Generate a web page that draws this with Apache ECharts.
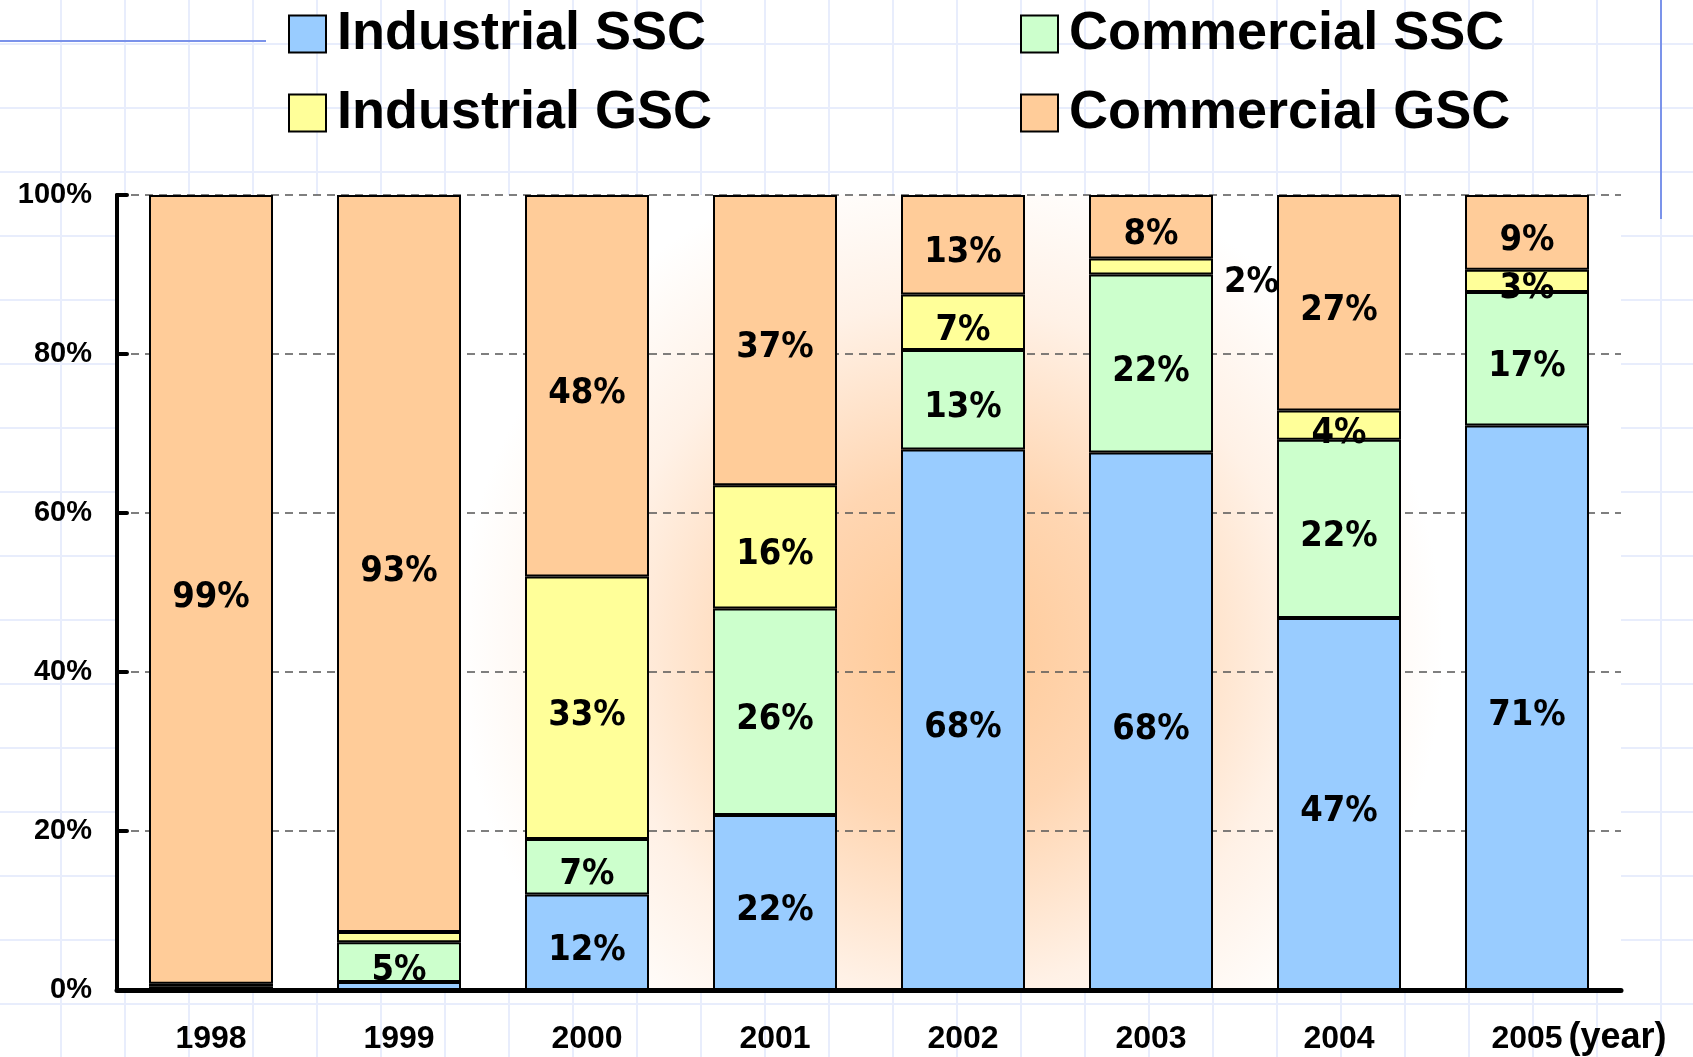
<!DOCTYPE html>
<html>
<head>
<meta charset="utf-8">
<script src="https://cdn.jsdelivr.net/npm/echarts@6/dist/echarts.min.js"></script>
<style>
  html, body { margin: 0; padding: 0; }
  body {
    background-color: #fff;
    background-image:
      linear-gradient(to right, #e8edfc 2px, transparent 2px),
      linear-gradient(to bottom, #e8edfc 2px, transparent 2px);
    background-size: 64px 64px;
    background-position: 60px 43px;
  }
  #chart { width: 1693px; height: 1057px; }
</style>
</head>
<body>
<div id="chart"></div>
<script>
var years = ['1998', '1999', '2000', '2001', '2002', '2003', '2004', '2005'];
var yTicks = ['0%', '20%', '40%', '60%', '80%', '100%'];

// share of each segment, %
var industrialSSC = [0, 1, 12, 22, 68, 67.6, 46.8, 71];
var commercialSSC = [0.4, 5, 7, 26, 12.5, 22.4, 22.4, 16.8];
var industrialGSC = [0.4, 1.3, 33, 15.5, 7, 2, 3.7, 2.8];
var commercialGSC = [99.2, 92.7, 48, 36.5, 12.5, 8, 27.1, 9.4];

var narrow = '"Liberation Sans Narrow", "DejaVu Sans Condensed", sans-serif';
var wide = '"Liberation Sans", Arial, sans-serif';

function makeData(values) {
    return values.map(function (v) {
        var item = { value: v };
        if (v < 1.5) {
            item.label = { show: false };
        } else if (v < 2.5) {
            // too thin, label goes beside the bar
            item.label = { position: 'right', distance: 11, offset: [0, 16] };
        }
        return item;
    });
}

function makeSeries(name, values, color) {
    return {
        name: name,
        type: 'bar',
        stack: 'all',
        barWidth: 124,
        data: makeData(values),
        itemStyle: { color: color, borderColor: '#000', borderWidth: 2 },
        label: {
            show: true,
            position: 'inside',
            offset: [0, 8],
            color: '#000',
            fontFamily: narrow,
            fontWeight: 'bold',
            fontSize: 36,
            formatter: function (p) { return Math.round(p.value) + '%'; }
        }
    };
}

var chart = echarts.init(document.getElementById('chart'));

var legendText = {
    fontFamily: wide,
    fontWeight: 'bold',
    fontSize: 54,
    color: '#000',
    padding: [0, 0, 0, 6]
};

var option = {
    animation: false,
    backgroundColor: 'transparent',
    legend: [
        {
            left: 283, top: 2, orient: 'vertical',
            icon: 'rect',
            itemWidth: 37, itemHeight: 37, itemGap: 25,
            itemStyle: { borderColor: '#000', borderWidth: 2 },
            textStyle: legendText,
            data: ['Industrial SSC', 'Industrial GSC']
        },
        {
            left: 1015, top: 2, orient: 'vertical',
            icon: 'rect',
            itemWidth: 37, itemHeight: 37, itemGap: 25,
            itemStyle: { borderColor: '#000', borderWidth: 2 },
            textStyle: legendText,
            data: ['Commercial SSC', 'Commercial GSC']
        }
    ],
    grid: {
        left: 117, right: 72, top: 195, bottom: 67,
        show: true,
        borderWidth: 0,
        backgroundColor: {
            type: 'radial', x: 0.554, y: 0.57, r: 0.62,
            colorStops: [
                { offset: 0, color: '#ffc894' },
                { offset: 0.35, color: '#ffd6b2' },
                { offset: 0.7, color: '#fff1e6' },
                { offset: 1, color: '#ffffff' }
            ]
        }
    },
    xAxis: {
        type: 'category',
        data: years,
        name: '(year)',
        nameLocation: 'end',
        nameGap: -66,
        nameTextStyle: {
            fontFamily: wide, fontWeight: 'bold', fontSize: 36, color: '#000',
            verticalAlign: 'top', padding: [30, 0, 0, 0]
        },
        axisLine: { lineStyle: { color: '#000', width: 5, cap: 'round' } },
        axisTick: { inside: true, length: 10, lineStyle: { color: '#000', width: 4, cap: 'round' } },
        axisLabel: { margin: 33, fontFamily: wide, fontWeight: 'bold', fontSize: 32, color: '#000' }
    },
    yAxis: {
        type: 'value',
        min: 0, max: 100, interval: 20,
        axisLine: { show: true, lineStyle: { color: '#000', width: 4 } },
        axisTick: { show: true, inside: true, length: 10, lineStyle: { color: '#000', width: 4, cap: 'round' } },
        axisLabel: {
            margin: 25, fontFamily: wide, fontWeight: 'bold', fontSize: 29, color: '#000',
            padding: [18, 0, 0, 0],
            formatter: function (v) { return yTicks[v / 20]; }
        },
        splitLine: { lineStyle: { color: '#555', width: 1.5, type: [8, 6] } }
    },
    graphic: [
        { type: 'line', shape: { x1: 0, y1: 41, x2: 266, y2: 41 }, style: { stroke: '#7b93ea', lineWidth: 2 } },
        { type: 'line', shape: { x1: 1661, y1: 0, x2: 1661, y2: 219 }, style: { stroke: '#7b93ea', lineWidth: 2 } }
    ],
    series: [
        makeSeries('Industrial SSC', industrialSSC, '#99ccff'),
        makeSeries('Commercial SSC', commercialSSC, '#ccffcc'),
        makeSeries('Industrial GSC', industrialGSC, '#ffff99'),
        makeSeries('Commercial GSC', commercialGSC, '#ffcc99')
    ]
};

chart.setOption(option);
</script>
</body>
</html>
